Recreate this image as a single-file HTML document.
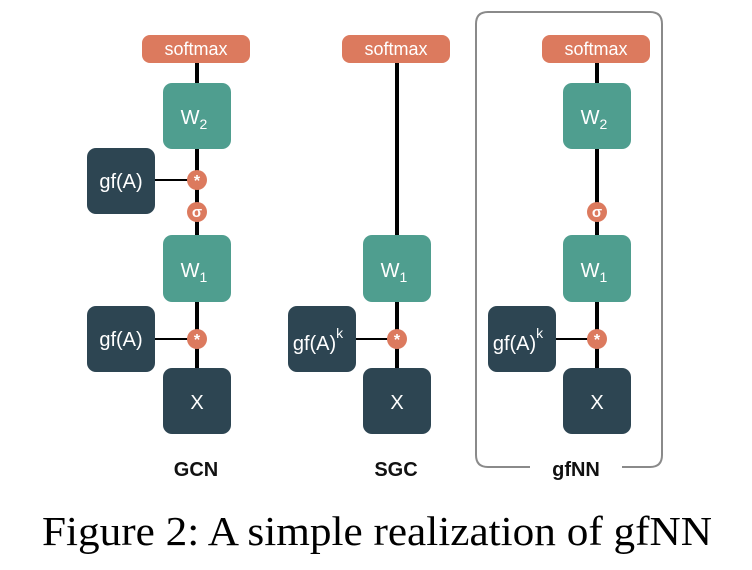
<!DOCTYPE html>
<html><head><meta charset="utf-8"><style>html,body{margin:0;padding:0;background:#fff}svg{display:block}</style></head><body>
<svg width="752" height="570" viewBox="0 0 752 570" xmlns="http://www.w3.org/2000/svg" font-family="Liberation Sans, DejaVu Sans, sans-serif">
<defs>
<g id="star"><circle r="10" fill="#dc7a5e"/><text y="6" text-anchor="middle" font-size="16" fill="#fff" font-weight="bold">*</text></g>
<g id="sig"><circle r="10" fill="#dc7a5e"/><text y="5" text-anchor="middle" font-size="15" fill="#fff" font-weight="bold">σ</text></g>
</defs>
<g stroke="#000" stroke-width="4">
<line x1="197" y1="50" x2="197" y2="400"/>
<line x1="397" y1="50" x2="397" y2="400"/>
<line x1="597" y1="50" x2="597" y2="400"/>
</g>
<g stroke="#000" stroke-width="2">
<line x1="150" y1="180" x2="197" y2="180"/>
<line x1="150" y1="339" x2="197" y2="339"/>
<line x1="350" y1="339" x2="397" y2="339"/>
<line x1="550" y1="339" x2="597" y2="339"/>
</g>
<path d="M530 467 H488 Q476 467 476 455 V24 Q476 12 488 12 H650 Q662 12 662 24 V455 Q662 467 650 467 H622" fill="none" stroke="#8a8a8a" stroke-width="2"/>
<g font-size="18" fill="#fff" text-anchor="middle">
<rect x="142" y="35" width="108" height="28" rx="8" fill="#dc7a5e"/><text x="196" y="55">softmax</text>
<rect x="342" y="35" width="108" height="28" rx="8" fill="#dc7a5e"/><text x="396" y="55">softmax</text>
<rect x="542" y="35" width="108" height="28" rx="8" fill="#dc7a5e"/><text x="596" y="55">softmax</text>
</g>
<g font-size="20" fill="#fff" text-anchor="middle">
<rect x="163" y="83" width="68" height="66" rx="9" fill="#4f9e8f"/><text x="194" y="124">W<tspan font-size="14" dy="5">2</tspan></text>
<rect x="87" y="148" width="68" height="66" rx="9" fill="#2d4552"/><text x="121" y="188">gf(A)</text>
<rect x="163" y="235" width="68" height="67" rx="9" fill="#4f9e8f"/><text x="194" y="277">W<tspan font-size="14" dy="5">1</tspan></text>
<rect x="87" y="306" width="68" height="66" rx="9" fill="#2d4552"/><text x="121" y="346">gf(A)</text>
<rect x="163" y="368" width="68" height="66" rx="9" fill="#2d4552"/><text x="197" y="409">X</text>
<rect x="363" y="235" width="68" height="67" rx="9" fill="#4f9e8f"/><text x="394" y="277">W<tspan font-size="14" dy="5">1</tspan></text>
<rect x="288" y="306" width="68" height="66" rx="9" fill="#2d4552"/><text x="318" y="350">gf(A)<tspan font-size="14" dy="-12">k</tspan></text>
<rect x="363" y="368" width="68" height="66" rx="9" fill="#2d4552"/><text x="397" y="409">X</text>
<rect x="563" y="83" width="68" height="66" rx="9" fill="#4f9e8f"/><text x="594" y="124">W<tspan font-size="14" dy="5">2</tspan></text>
<rect x="563" y="235" width="68" height="67" rx="9" fill="#4f9e8f"/><text x="594" y="277">W<tspan font-size="14" dy="5">1</tspan></text>
<rect x="488" y="306" width="68" height="66" rx="9" fill="#2d4552"/><text x="518" y="350">gf(A)<tspan font-size="14" dy="-12">k</tspan></text>
<rect x="563" y="368" width="68" height="66" rx="9" fill="#2d4552"/><text x="597" y="409">X</text>
</g>
<use href="#star" x="197" y="180"/><use href="#sig" x="197" y="212"/><use href="#star" x="197" y="339"/>
<use href="#star" x="397" y="339"/>
<use href="#sig" x="597" y="212"/><use href="#star" x="597" y="339"/>
<g font-size="20" font-weight="bold" fill="#111" text-anchor="middle">
<text x="196" y="476">GCN</text><text x="396" y="476">SGC</text><text x="576" y="476">gfNN</text>
</g>
<text x="42" y="545" font-family="Liberation Serif, serif" font-size="41" textLength="670" lengthAdjust="spacingAndGlyphs" fill="#000">Figure 2: A simple realization of gfNN</text>
</svg>
</body></html>
